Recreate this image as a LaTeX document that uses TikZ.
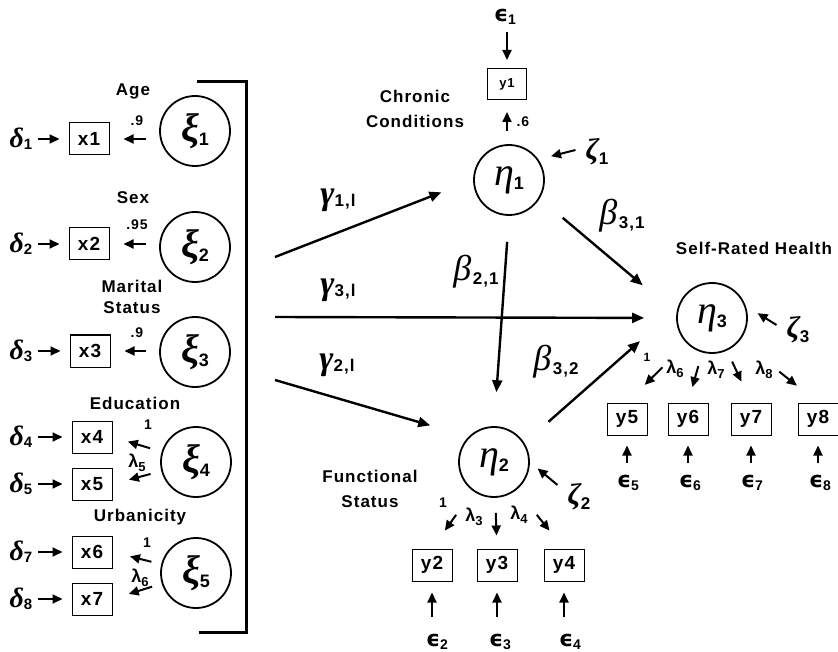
\documentclass[tikz,border=0pt]{standalone}
\usepackage{fontspec}
\setmainfont{Liberation Sans}
\newfontfamily\lab{Liberation Sans}[LetterSpace=6]
\newfontfamily\grf{Liberation Serif}
\newfontfamily\grs{DejaVu Sans}
\usetikzlibrary{arrows.meta,calc}
\newcommand\lfs[1]{\lab\bfseries\fontsize{#1}{#1}\selectfont}
\newcommand\gfs[1]{\grf\itshape\fontsize{#1}{#1}\selectfont}
\newcommand\mydlt[1]{{\grf\bfseries\itshape\fontsize{28}{28}\selectfont δ}\raisebox{-2pt}{\lfs{15}#1}}
\newcommand\myeps[1]{{\grs\bfseries\fontsize{22}{22}\selectfont ϵ}\raisebox{-3pt}{\lfs{14}#1}}
\newcommand\mylam[1]{{\lfs{18}λ}\raisebox{-4pt}{\lfs{13}#1}}
\newcommand\mygam[1]{{\grf\bfseries\itshape\fontsize{34}{34}\selectfont γ}\raisebox{-2pt}{\lfs{17}#1}}
\newcommand\mybet[1]{{\gfs{36}β}\,\raisebox{-4pt}{\lfs{17}#1}}
\newcommand\mycg[2]{{\grf\bfseries\itshape\fontsize{40}{40}\selectfont #1}\raisebox{-4pt}{\lfs{18}#2}}
\newcommand\mycn[2]{{\gfs{40}#1}\raisebox{-4pt}{\lfs{18}#2}}
\newcommand\myzt[1]{{\grf\bfseries\itshape\fontsize{30}{30}\selectfont ζ}\raisebox{-5pt}{\lfs{17}#1}}
\tikzset{
  lat/.style={circle, draw, line width=1.8pt, minimum size=70pt, inner sep=0pt},
  obs/.style={draw, line width=1pt, minimum width=40pt, minimum height=32pt, inner sep=0pt, font=\lfs{19}},
  txt/.style={font=\lab\bfseries\fontsize{17}{21}\selectfont, align=center, inner sep=0pt},
  num/.style={font=\lfs{14}, inner sep=0pt},
  gl/.style={inner sep=0pt},
  arr/.style={-{Triangle[length=12pt,width=10pt]}, line width=2.4pt},
  sarr/.style={-{Triangle[length=10pt,width=9pt]}, line width=2pt},
}
\begin{document}
\begin{tikzpicture}[x=1pt,y=-1pt]
\useasboundingbox (0,0) rectangle (838,652);
% ---------- left block ----------
\node[lat] (xi1) at (195,131) {\mycg{ξ}{1}};
\node[lat] (xi2) at (195,247) {\mycg{ξ}{2}};
\node[lat] (xi3) at (195,352) {\mycg{ξ}{3}};
\node[lat] (xi4) at (196,462) {\mycg{ξ}{4}};
\node[lat] (xi5) at (196,573) {\mycg{ξ}{5}};
\node[obs] (x1) at (89,139) {x1};
\node[obs] (x2) at (89,244) {x2};
\node[obs] (x3) at (90,351) {x3};
\node[obs] (x4) at (92,437) {x4};
\node[obs] (x5) at (92,484) {x5};
\node[obs] (x6) at (92,552) {x6};
\node[obs] (x7) at (92,599) {x7};
\node[gl] (d1) at (21,139) {\mydlt{1}};
\node[gl] (d2) at (21,244) {\mydlt{2}};
\node[gl] (d3) at (21,351) {\mydlt{3}};
\node[gl] (d4) at (21,437) {\mydlt{4}};
\node[gl] (d5) at (21,484) {\mydlt{5}};
\node[gl] (d7) at (21,552) {\mydlt{7}};
\node[gl] (d8) at (21,599) {\mydlt{8}};
\node[txt] (age) at (133,91) {Age};
\node[txt] (sex) at (133,198) {Sex};
\node[txt] (mar) at (132,297) {Marital\\Status};
\node[txt] (edu) at (135,403) {Education};
\node[txt] (urb) at (140,517) {Urbanicity};
\node[num] (l1) at (137,121) {.9};
\node[num] (l2) at (137,225) {.95};
\node[num] (l3) at (137,333) {.9};
\node[num] (l4) at (148,425) {1};
\node[gl] (l5) at (137,463) {\mylam{5}};
\node[num] (l6) at (147,543) {1};
\node[gl] (l7) at (140,578) {\mylam{6}};
\foreach \d/\x in {d1/x1,d2/x2,d3/x3,d4/x4,d5/x5,d7/x6,d8/x7}
  \draw[sarr, shorten <=17pt, shorten >=9pt] (\d.center) -- (\x.west);
\draw[sarr, shorten <=13pt, shorten >=14pt] (xi1.west |- x1) -- (x1.east);
\draw[sarr, shorten <=13pt, shorten >=14pt] (xi2.west |- x2) -- (x2.east);
\draw[sarr, shorten <=13pt, shorten >=14pt] (xi3.west |- x3) -- (x3.east);
\draw[sarr, shorten <=48pt, shorten >=16pt] (xi4.center) -- (x4.east);
\draw[sarr, shorten <=47pt, shorten >=17pt] (xi4.center) -- (x5.east);
\draw[sarr, shorten <=46pt, shorten >=18pt] (xi5.center) -- (x6.east);
\draw[sarr, shorten <=46pt, shorten >=17pt] (xi5.center) -- (x7.east);
\coordinate (bt1) at (197,82);
\coordinate (bt2) at (246,82);
\coordinate (bb2) at (246,632);
\coordinate (bb1) at (199,632);
\draw[line width=3pt] (bt1) -- (bt2) -- (bb2) -- (bb1);
% ---------- middle ----------
\node[lat] (eta1) at (509,180) {\mycn{η}{1}};
\node[lat] (eta2) at (494,462) {\mycn{η}{2}};
\node[lat] (eta3) at (712,318) {\mycn{η}{3}};
\node[obs, minimum width=39pt, minimum height=31pt, font=\lfs{13}] (y1) at (507,84) {y1};
\node[gl] (e1) at (505,17) {\myeps{1}};
\node[txt] (chr) at (415,109) {Chronic\\[4pt]Conditions};
\node[num] (l8) at (523,122) {.6};
\node[gl] (z1) at (597,152) {\myzt{1}};
\node[gl] (z2) at (579,497) {\myzt{2}};
\node[gl] (z3) at (798,330) {\myzt{3}};
\node[gl] (g1l) at (338,200) {\mygam{1,l}};
\node[gl] (g3l) at (338,290) {\mygam{3,l}};
\node[gl] (g2l) at (337,365) {\mygam{2,l}};
\node[gl] (b21) at (476,272) {\mybet{2,1}};
\node[gl] (b31) at (622,216) {\mybet{3,1}};
\node[gl] (b32) at (556,362) {\mybet{3,2}};
\node[txt] (fun) at (370,489) {Functional\\[4pt]Status};
\node[txt] (srh) at (754,248) {Self-Rated Health};
\coordinate (g1) at (275,257);
\coordinate (g3) at (275,317);
\coordinate (g2) at (275,380);
\draw[arr, shorten >=34pt] (g1) -- (eta1.west);
\draw[arr, shorten >=32pt] (g3) -- (eta3.west);
\draw[arr, shorten >=40pt] (g2) -- (eta2.north west);
\draw[arr, shorten <=26pt, shorten >=34pt] (eta1.south) -- (eta2.north);
\draw[arr, shorten <=30pt, shorten >=44pt] (eta1.-31) -- (eta3.173);
\draw[arr, shorten <=32pt, shorten >=50pt] (eta2.32) -- (eta3.164);
\draw[sarr, shorten <=15pt, shorten >=8pt] (y1.north |- e1) -- (y1.north);
\draw[sarr, shorten <=13pt, shorten >=12pt] (y1.south |- eta1.north) -- (y1.south);
\draw[sarr, shorten >=13pt] ($(z1.west)+(-10,-2)$) -- (eta1.35);
\draw[sarr, shorten >=10pt] ($(z2.west)+(-10,-12)$) -- (eta2.east);
\draw[sarr, shorten >=14pt] ($(z3.west)+(-10,-5)$) -- (eta3.20);
% ---------- eta2 indicators ----------
\node[obs] (y2) at (432,565) {y2};
\node[obs] (y3) at (497,565) {y3};
\node[obs] (y4) at (564,565) {y4};
\node[num] (l9) at (443,503) {1};
\node[gl] (l10) at (474,517) {\mylam{3}};
\node[gl] (l11) at (519,515) {\mylam{4}};
\node[gl] (e2) at (437,642) {\myeps{2}};
\node[gl] (e3) at (500,642) {\myeps{3}};
\node[gl] (e4) at (570,642) {\myeps{4}};
\draw[sarr, shorten <=65pt, shorten >=22pt] (eta2.center) -- (y2.north);
\draw[sarr, shorten <=51pt, shorten >=13pt] (eta2.center) -- (y3.north);
\draw[sarr, shorten <=68pt, shorten >=23pt] (eta2.center) -- (y4.north);
\foreach \e/\y in {e2/y2,e3/y3,e4/y4}
  \draw[sarr, shorten <=25pt, shorten >=11pt] (\y.south |- \e) -- (\y.south);
% ---------- eta3 indicators ----------
\node[obs] (y5) at (627,419) {y5};
\node[obs] (y6) at (688,419) {y6};
\node[obs] (y7) at (751,419) {y7};
\node[obs] (y8) at (818,419) {y8};
\node[num, font=\lfs{12}] (l12) at (647,357) {1};
\node[gl] (l13) at (675,369) {\mylam{6}};
\node[gl] (l14) at (716,370) {\mylam{7}};
\node[gl] (l15) at (764,370) {\mylam{8}};
\node[gl] (e5) at (628,483) {\myeps{5}};
\node[gl] (e6) at (690,483) {\myeps{6}};
\node[gl] (e7) at (752,483) {\myeps{7}};
\node[gl] (e8) at (820,483) {\myeps{8}};
\draw[sarr, shorten <=70pt, shorten >=25pt] (eta3.center) -- (y5.north);
\draw[sarr, shorten <=50pt, shorten >=16pt] (eta3.center) -- (y6.north);
\draw[sarr, shorten <=48pt, shorten >=23pt] (eta3.center) -- (y7.north);
\draw[sarr, shorten <=86pt, shorten >=27pt] (eta3.center) -- (y8.north);
\foreach \e/\y in {e5/y5,e6/y6,e7/y7,e8/y8}
  \draw[sarr, shorten <=20pt, shorten >=10pt] (\y.south |- \e) -- (\y.south);
\end{tikzpicture}
\end{document}
